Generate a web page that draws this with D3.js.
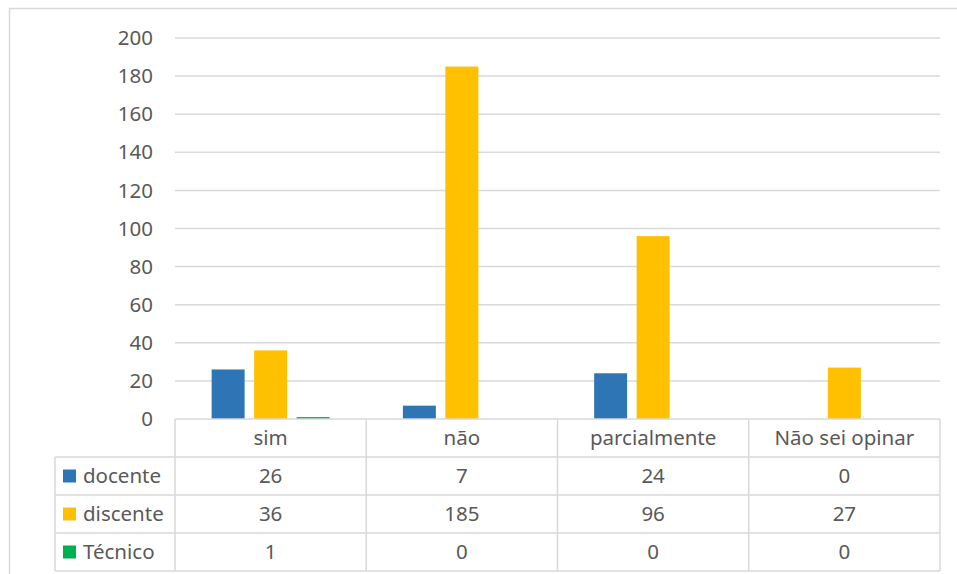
<!DOCTYPE html>
<html>
<head>
<meta charset="utf-8">
<script src="https://cdn.jsdelivr.net/npm/d3@7"></script>
<style>
  body { margin: 0; background: #fff; }
  text { font-family: "Noto Sans", sans-serif; fill: #595959; }
</style>
</head>
<body>
<svg id="chart" width="957" height="574"></svg>
<script>
const categories = ["sim", "não", "parcialmente", "Não sei opinar"];
const seriesNames = ["docente", "discente", "Técnico"];
const docente = [26, 7, 24, 0];
const discente = [36, 185, 96, 27];
const tecnico = [1, 0, 0, 0];
const seriesColors = ["#2E75B6", "#FFC000", "#00B050"];
const yTicks = [0, 20, 40, 60, 80, 100, 120, 140, 160, 180, 200];

const series = [docente, discente, tecnico];

const svg = d3.select("#chart");
const plotLeft = 175, plotRight = 940, plotTop = 38, plotBottom = 419;
const tableLeft = 55, rowH = 38;
const grid = "#d9d9d9";
const fs = 20.5;

// outer frame (right and bottom edges are cut off in the original)
svg.append("path")
  .attr("d", "M9.5,600 V8.5 H1000")
  .attr("fill", "none").attr("stroke", grid).attr("stroke-width", 1.5);

const y = d3.scaleLinear().domain([0, 200]).range([plotBottom, plotTop]);
const x0 = d3.scaleBand().domain(categories).range([plotLeft, plotRight]);
const x1 = d3.scaleBand().domain(seriesNames).range([0, x0.bandwidth()])
  .paddingOuter(0.862).paddingInner(0.224);

// gridlines
svg.append("g").selectAll("line").data(yTicks.slice(1)).join("line")
  .attr("x1", plotLeft).attr("x2", plotRight)
  .attr("y1", d => y(d)).attr("y2", d => y(d))
  .attr("stroke", grid).attr("stroke-width", 1.5);

// y labels
svg.append("g").selectAll("text").data(yTicks).join("text")
  .attr("x", 153).attr("y", d => y(d)).attr("dy", "0.35em")
  .attr("text-anchor", "end").attr("font-size", fs).text(d => d);

// bars
seriesNames.forEach((name, si) => {
  svg.append("g").selectAll("rect").data(categories).join("rect")
    .attr("x", c => x0(c) + x1(name))
    .attr("width", x1.bandwidth())
    .attr("y", (c, i) => y(series[si][i]))
    .attr("height", (c, i) => plotBottom - y(series[si][i]))
    .attr("fill", seriesColors[si]);
});

// data table
const tb = svg.append("g");
const tableBottom = plotBottom + rowH * 4;
// horizontal lines
tb.append("line").attr("x1", plotLeft).attr("x2", plotRight).attr("y1", plotBottom).attr("y2", plotBottom)
  .attr("stroke", grid).attr("stroke-width", 1.5);
d3.range(1, 5).forEach(r => {
  tb.append("line").attr("x1", tableLeft).attr("x2", plotRight)
    .attr("y1", plotBottom + r * rowH).attr("y2", plotBottom + r * rowH)
    .attr("stroke", grid).attr("stroke-width", 1.5);
});
// vertical lines
tb.append("line").attr("x1", tableLeft).attr("x2", tableLeft)
  .attr("y1", plotBottom + rowH).attr("y2", tableBottom)
  .attr("stroke", grid).attr("stroke-width", 1.5);
categories.forEach(c => {
  tb.append("line").attr("x1", x0(c)).attr("x2", x0(c))
    .attr("y1", plotBottom).attr("y2", tableBottom)
    .attr("stroke", grid).attr("stroke-width", 1.5);
});
tb.append("line").attr("x1", plotRight).attr("x2", plotRight)
  .attr("y1", plotBottom).attr("y2", tableBottom)
  .attr("stroke", grid).attr("stroke-width", 1.5);

// header
tb.selectAll("text.cat").data(categories).join("text").attr("class", "cat")
  .attr("x", c => x0(c) + x0.bandwidth() / 2).attr("y", plotBottom + rowH / 2)
  .attr("dy", "0.35em").attr("text-anchor", "middle").attr("font-size", fs)
  .text(c => c);

// rows
seriesNames.forEach((name, si) => {
  const ry = plotBottom + (si + 1) * rowH + rowH / 2;
  tb.append("rect").attr("x", 63).attr("y", ry - 6.5).attr("width", 13).attr("height", 13)
    .attr("fill", seriesColors[si]);
  tb.append("text").attr("x", 83).attr("y", ry).attr("dy", "0.35em")
    .attr("font-size", fs).text(name);
  tb.selectAll("text.v" + si).data(categories).join("text").attr("class", "v" + si)
    .attr("x", c => x0(c) + x0.bandwidth() / 2).attr("y", ry)
    .attr("dy", "0.35em").attr("text-anchor", "middle").attr("font-size", fs)
    .text((c, i) => series[si][i]);
});
</script>
</body>
</html>
